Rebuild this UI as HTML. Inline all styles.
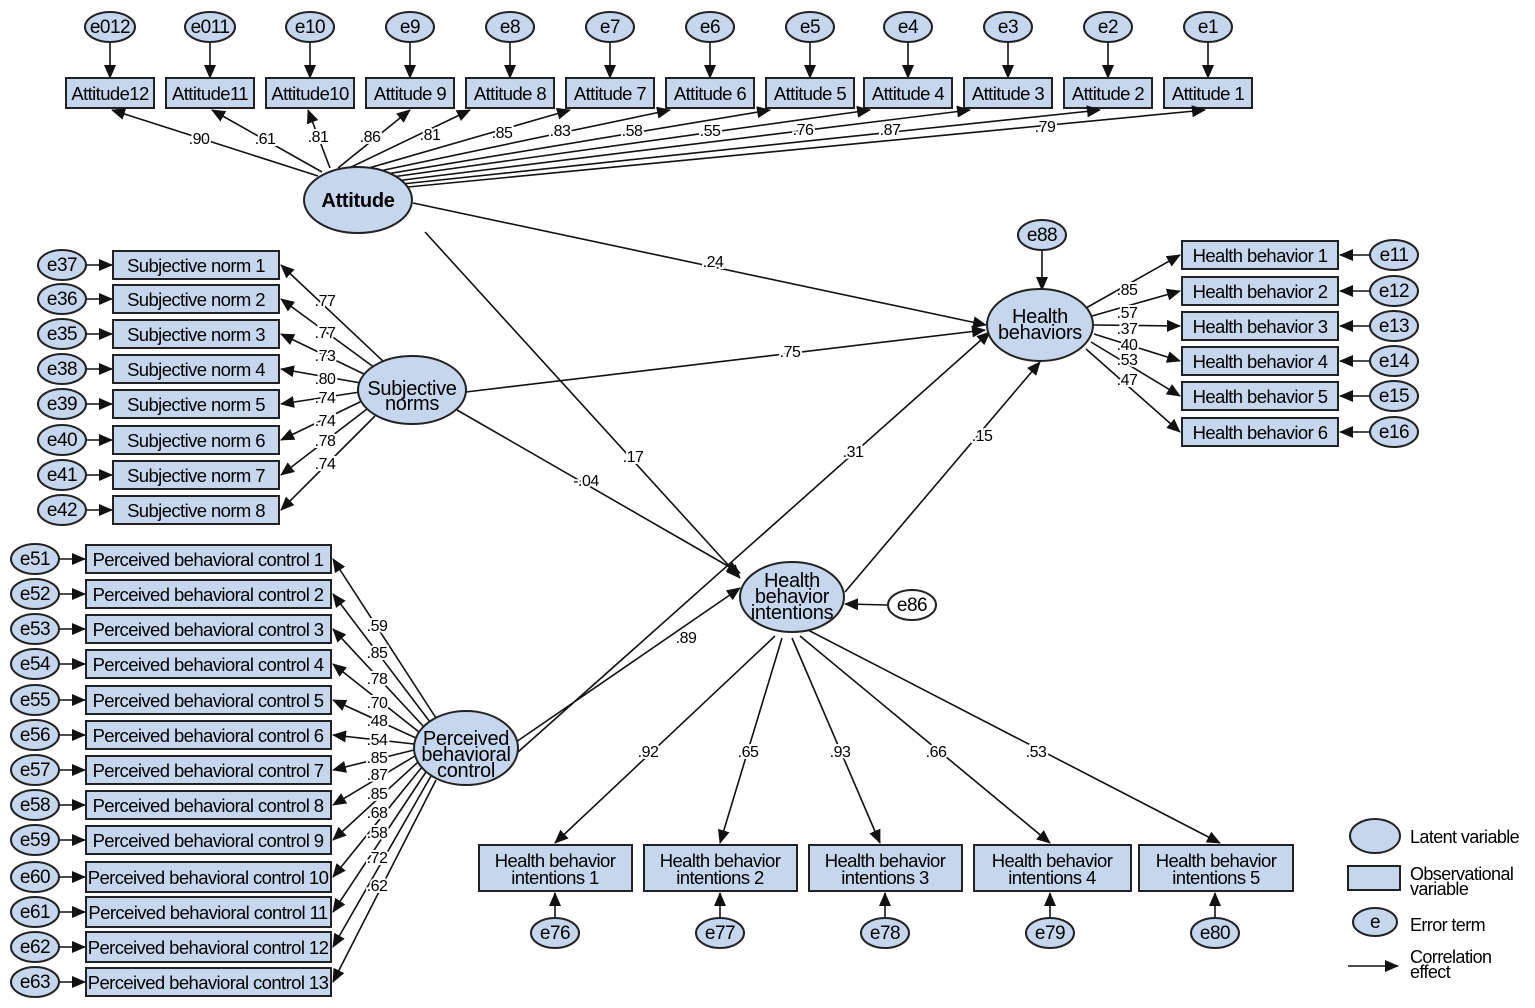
<!DOCTYPE html>
<html><head><meta charset="utf-8"><style>
html,body{margin:0;padding:0;background:#fff}
svg{display:block}
text{font-family:"Liberation Sans","DejaVu Sans",sans-serif;fill:#000}
.b{fill:#c6d6ec;stroke:#222;stroke-width:2}
.l{stroke:#111;stroke-width:1.6;fill:none;marker-end:url(#a)}
.t{font-size:18.5px;letter-spacing:-0.6px;text-anchor:middle}
.n{font-size:16px;letter-spacing:-0.5px;text-anchor:middle;paint-order:stroke;stroke:#fff;stroke-width:4px}
.e{font-size:19px;text-anchor:middle;letter-spacing:-0.5px}
.v{font-size:20px;text-anchor:middle;letter-spacing:-0.3px}
.g{font-size:18px;letter-spacing:-0.6px}
</style></head><body>
<svg width="1535" height="1008" viewBox="0 0 1535 1008" xmlns="http://www.w3.org/2000/svg">
<defs><marker id="a" markerUnits="userSpaceOnUse" markerWidth="14" markerHeight="12" refX="13" refY="6" orient="auto"><path d="M0,0 L14,6 L0,12 Z" fill="#111"/></marker></defs>

<g>
<path class="l" d="M110,43 V78"/><path class="l" d="M210,43 V78"/><path class="l" d="M310,43 V78"/><path class="l" d="M410,43 V78"/><path class="l" d="M510,43 V78"/><path class="l" d="M610,43 V78"/><path class="l" d="M710,43 V78"/><path class="l" d="M810,43 V78"/><path class="l" d="M908,43 V78"/><path class="l" d="M1008,43 V78"/><path class="l" d="M1108,43 V78"/><path class="l" d="M1208,43 V78"/>
<ellipse class="b" cx="110" cy="27" rx="25" ry="15"/><text class="e" x="110" y="33">e012</text>
<ellipse class="b" cx="210" cy="27" rx="25" ry="15"/><text class="e" x="210" y="33">e011</text>
<ellipse class="b" cx="310" cy="27" rx="24" ry="15"/><text class="e" x="310" y="33">e10</text>
<ellipse class="b" cx="410" cy="27" rx="24" ry="15"/><text class="e" x="410" y="33">e9</text>
<ellipse class="b" cx="510" cy="27" rx="24" ry="15"/><text class="e" x="510" y="33">e8</text>
<ellipse class="b" cx="610" cy="27" rx="24" ry="15"/><text class="e" x="610" y="33">e7</text>
<ellipse class="b" cx="710" cy="27" rx="24" ry="15"/><text class="e" x="710" y="33">e6</text>
<ellipse class="b" cx="810" cy="27" rx="24" ry="15"/><text class="e" x="810" y="33">e5</text>
<ellipse class="b" cx="908" cy="27" rx="24" ry="15"/><text class="e" x="908" y="33">e4</text>
<ellipse class="b" cx="1008" cy="27" rx="24" ry="15"/><text class="e" x="1008" y="33">e3</text>
<ellipse class="b" cx="1108" cy="27" rx="24" ry="15"/><text class="e" x="1108" y="33">e2</text>
<ellipse class="b" cx="1208" cy="27" rx="24" ry="15"/><text class="e" x="1208" y="33">e1</text>
</g>
<g>
<rect class="b" x="66" y="78" width="88" height="30"/><text class="t" x="110" y="100">Attitude12</text>
<rect class="b" x="166" y="78" width="88" height="30"/><text class="t" x="210" y="100">Attitude11</text>
<rect class="b" x="266" y="78" width="88" height="30"/><text class="t" x="310" y="100">Attitude10</text>
<rect class="b" x="366" y="78" width="88" height="30"/><text class="t" x="410" y="100">Attitude 9</text>
<rect class="b" x="466" y="78" width="88" height="30"/><text class="t" x="510" y="100">Attitude 8</text>
<rect class="b" x="566" y="78" width="88" height="30"/><text class="t" x="610" y="100">Attitude 7</text>
<rect class="b" x="666" y="78" width="88" height="30"/><text class="t" x="710" y="100">Attitude 6</text>
<rect class="b" x="766" y="78" width="88" height="30"/><text class="t" x="810" y="100">Attitude 5</text>
<rect class="b" x="864" y="78" width="88" height="30"/><text class="t" x="908" y="100">Attitude 4</text>
<rect class="b" x="964" y="78" width="88" height="30"/><text class="t" x="1008" y="100">Attitude 3</text>
<rect class="b" x="1064" y="78" width="88" height="30"/><text class="t" x="1108" y="100">Attitude 2</text>
<rect class="b" x="1164" y="78" width="88" height="30"/><text class="t" x="1208" y="100">Attitude 1</text>
</g>
<g>
<path class="l" d="M318,176 L112,110"/><path class="l" d="M322,172 L212,110"/><path class="l" d="M330,168 L308,110"/><path class="l" d="M338,168 L410,110"/>
<path class="l" d="M345,170 L470,110"/><path class="l" d="M355,172 L570,110"/><path class="l" d="M365,174 L670,110"/><path class="l" d="M375,176 L770,110"/><path class="l" d="M385,178 L870,110"/><path class="l" d="M395,181 L970,110"/><path class="l" d="M402,184 L1100,110"/><path class="l" d="M408,187 L1205,110"/>
<text class="n" x="199" y="144">.90</text><text class="n" x="265" y="144">.61</text><text class="n" x="318" y="142">.81</text><text class="n" x="370" y="142">.86</text><text class="n" x="430" y="140">.81</text><text class="n" x="502" y="138">.85</text><text class="n" x="560" y="136">.83</text><text class="n" x="632" y="136">.58</text><text class="n" x="710" y="136">.55</text><text class="n" x="803" y="135">.76</text><text class="n" x="890" y="135">.87</text><text class="n" x="1045" y="132">.79</text>
</g>

<path class="l" d="M413,203 L986,325"/>
<path class="l" d="M425,232 L740,578"/>
<path class="l" d="M466,392 L985,330"/>
<path class="l" d="M457,410 L740,573"/>
<path class="l" d="M518,752 L990,332"/>
<path class="l" d="M516,742 L740,588"/>
<path class="l" d="M845,592 L1040,362"/>
<path class="l" d="M1042,251 V290"/>
<path class="l" d="M888,605 L845,604"/>
<text class="n" x="713" y="267">.24</text><text class="n" x="633" y="462">.17</text><text class="n" x="790" y="357">.75</text><text class="n" x="586" y="486">-.04</text><text class="n" x="853" y="457">.31</text><text class="n" x="686" y="643">.89</text><text class="n" x="982" y="441">.15</text>

<g>
<path class="l" d="M86,265 H112"/><path class="l" d="M86,299 H112"/><path class="l" d="M86,334 H112"/><path class="l" d="M86,369 H112"/><path class="l" d="M86,404 H112"/><path class="l" d="M86,440 H112"/><path class="l" d="M86,475 H112"/><path class="l" d="M86,510 H112"/>
<path class="l" d="M385,363 L281,265"/><path class="l" d="M375,368 L281,299"/><path class="l" d="M366,375 L281,334"/><path class="l" d="M361,383 L281,369"/><path class="l" d="M360,392 L281,404"/><path class="l" d="M362,401 L281,440"/><path class="l" d="M367,409 L281,475"/><path class="l" d="M375,416 L281,510"/>
<ellipse class="b" cx="62" cy="265" rx="24" ry="15"/><text class="e" x="62" y="271">e37</text>
<ellipse class="b" cx="62" cy="299" rx="24" ry="15"/><text class="e" x="62" y="305">e36</text>
<ellipse class="b" cx="62" cy="334" rx="24" ry="15"/><text class="e" x="62" y="340">e35</text>
<ellipse class="b" cx="62" cy="369" rx="24" ry="15"/><text class="e" x="62" y="375">e38</text>
<ellipse class="b" cx="62" cy="404" rx="24" ry="15"/><text class="e" x="62" y="410">e39</text>
<ellipse class="b" cx="62" cy="440" rx="24" ry="15"/><text class="e" x="62" y="446">e40</text>
<ellipse class="b" cx="62" cy="475" rx="24" ry="15"/><text class="e" x="62" y="481">e41</text>
<ellipse class="b" cx="62" cy="510" rx="24" ry="15"/><text class="e" x="62" y="516">e42</text>
<rect class="b" x="113" y="251" width="166" height="28"/><text class="t" x="196" y="272">Subjective norm 1</text>
<rect class="b" x="113" y="285" width="166" height="28"/><text class="t" x="196" y="306">Subjective norm 2</text>
<rect class="b" x="113" y="320" width="166" height="28"/><text class="t" x="196" y="341">Subjective norm 3</text>
<rect class="b" x="113" y="355" width="166" height="28"/><text class="t" x="196" y="376">Subjective norm 4</text>
<rect class="b" x="113" y="390" width="166" height="28"/><text class="t" x="196" y="411">Subjective norm 5</text>
<rect class="b" x="113" y="426" width="166" height="28"/><text class="t" x="196" y="447">Subjective norm 6</text>
<rect class="b" x="113" y="461" width="166" height="28"/><text class="t" x="196" y="482">Subjective norm 7</text>
<rect class="b" x="113" y="496" width="166" height="28"/><text class="t" x="196" y="517">Subjective norm 8</text>
<text class="n" x="325" y="306">.77</text><text class="n" x="325" y="338">.77</text><text class="n" x="325" y="361">.73</text><text class="n" x="325" y="384">.80</text><text class="n" x="325" y="403">.74</text><text class="n" x="325" y="426">.74</text><text class="n" x="325" y="446">.78</text><text class="n" x="325" y="469">.74</text>
</g>

<g>
<path class="l" d="M59,559 H85"/><path class="l" d="M59,594 H85"/><path class="l" d="M59,629 H85"/><path class="l" d="M59,664 H85"/><path class="l" d="M59,700 H85"/><path class="l" d="M59,735 H85"/><path class="l" d="M59,770 H85"/><path class="l" d="M59,805 H85"/><path class="l" d="M59,840 H85"/><path class="l" d="M59,877 H85"/><path class="l" d="M59,912 H85"/><path class="l" d="M59,947 H85"/><path class="l" d="M59,982 H85"/>
<path class="l" d="M436,718 L333,559"/><path class="l" d="M430,722 L333,594"/><path class="l" d="M424,727 L333,629"/><path class="l" d="M419,732 L333,664"/><path class="l" d="M416,738 L333,700"/><path class="l" d="M414,744 L333,735"/><path class="l" d="M414,750 L333,770"/><path class="l" d="M415,756 L333,805"/><path class="l" d="M418,762 L333,840"/><path class="l" d="M422,767 L333,877"/><path class="l" d="M426,772 L333,912"/><path class="l" d="M431,776 L333,947"/><path class="l" d="M436,780 L333,982"/>
<ellipse class="b" cx="35" cy="559" rx="24" ry="15"/><text class="e" x="35" y="565">e51</text>
<ellipse class="b" cx="35" cy="594" rx="24" ry="15"/><text class="e" x="35" y="600">e52</text>
<ellipse class="b" cx="35" cy="629" rx="24" ry="15"/><text class="e" x="35" y="635">e53</text>
<ellipse class="b" cx="35" cy="664" rx="24" ry="15"/><text class="e" x="35" y="670">e54</text>
<ellipse class="b" cx="35" cy="700" rx="24" ry="15"/><text class="e" x="35" y="706">e55</text>
<ellipse class="b" cx="35" cy="735" rx="24" ry="15"/><text class="e" x="35" y="741">e56</text>
<ellipse class="b" cx="35" cy="770" rx="24" ry="15"/><text class="e" x="35" y="776">e57</text>
<ellipse class="b" cx="35" cy="805" rx="24" ry="15"/><text class="e" x="35" y="811">e58</text>
<ellipse class="b" cx="35" cy="840" rx="24" ry="15"/><text class="e" x="35" y="846">e59</text>
<ellipse class="b" cx="35" cy="877" rx="24" ry="15"/><text class="e" x="35" y="883">e60</text>
<ellipse class="b" cx="35" cy="912" rx="24" ry="15"/><text class="e" x="35" y="918">e61</text>
<ellipse class="b" cx="35" cy="947" rx="24" ry="15"/><text class="e" x="35" y="953">e62</text>
<ellipse class="b" cx="35" cy="982" rx="24" ry="15"/><text class="e" x="35" y="988">e63</text>
<rect class="b" x="86" y="545" width="245" height="28"/><text class="t" x="208" y="566">Perceived behavioral control 1</text>
<rect class="b" x="86" y="580" width="245" height="28"/><text class="t" x="208" y="601">Perceived behavioral control 2</text>
<rect class="b" x="86" y="615" width="245" height="28"/><text class="t" x="208" y="636">Perceived behavioral control 3</text>
<rect class="b" x="86" y="650" width="245" height="28"/><text class="t" x="208" y="671">Perceived behavioral control 4</text>
<rect class="b" x="86" y="686" width="245" height="28"/><text class="t" x="208" y="707">Perceived behavioral control 5</text>
<rect class="b" x="86" y="721" width="245" height="28"/><text class="t" x="208" y="742">Perceived behavioral control 6</text>
<rect class="b" x="86" y="756" width="245" height="28"/><text class="t" x="208" y="777">Perceived behavioral control 7</text>
<rect class="b" x="86" y="791" width="245" height="28"/><text class="t" x="208" y="812">Perceived behavioral control 8</text>
<rect class="b" x="86" y="826" width="245" height="28"/><text class="t" x="208" y="847">Perceived behavioral control 9</text>
<rect class="b" x="86" y="862" width="245" height="30"/><text class="t" x="208" y="884">Perceived behavioral control 10</text>
<rect class="b" x="86" y="897" width="245" height="30"/><text class="t" x="208" y="919">Perceived behavioral control 11</text>
<rect class="b" x="86" y="932" width="245" height="30"/><text class="t" x="208" y="954">Perceived behavioral control 12</text>
<rect class="b" x="86" y="968" width="245" height="28"/><text class="t" x="208" y="989">Perceived behavioral control 13</text>
<text class="n" x="377" y="631">.59</text><text class="n" x="377" y="658">.85</text><text class="n" x="377" y="684">.78</text><text class="n" x="377" y="708">.70</text><text class="n" x="377" y="726">.48</text><text class="n" x="377" y="745">.54</text><text class="n" x="377" y="763">.85</text><text class="n" x="377" y="780">.87</text><text class="n" x="377" y="799">.85</text><text class="n" x="377" y="818">.68</text><text class="n" x="377" y="838">.58</text><text class="n" x="377" y="863">.72</text><text class="n" x="377" y="891">.62</text>
</g>

<g>
<path class="l" d="M1086,308 L1180,255"/><path class="l" d="M1092,316 L1180,291"/><path class="l" d="M1094,325 L1180,326"/><path class="l" d="M1094,334 L1180,361"/><path class="l" d="M1091,342 L1180,396"/><path class="l" d="M1086,349 L1180,432"/>
<path class="l" d="M1370,255 H1340"/><path class="l" d="M1370,291 H1340"/><path class="l" d="M1370,326 H1340"/><path class="l" d="M1370,361 H1340"/><path class="l" d="M1370,396 H1340"/><path class="l" d="M1370,432 H1340"/>
<rect class="b" x="1182" y="241" width="156" height="28"/><text class="t" x="1260" y="262">Health behavior 1</text>
<rect class="b" x="1182" y="277" width="156" height="28"/><text class="t" x="1260" y="298">Health behavior 2</text>
<rect class="b" x="1182" y="312" width="156" height="28"/><text class="t" x="1260" y="333">Health behavior 3</text>
<rect class="b" x="1182" y="347" width="156" height="28"/><text class="t" x="1260" y="368">Health behavior 4</text>
<rect class="b" x="1182" y="382" width="156" height="28"/><text class="t" x="1260" y="403">Health behavior 5</text>
<rect class="b" x="1182" y="418" width="156" height="28"/><text class="t" x="1260" y="439">Health behavior 6</text>
<ellipse class="b" cx="1394" cy="255" rx="24" ry="15"/><text class="e" x="1394" y="261">e11</text>
<ellipse class="b" cx="1394" cy="291" rx="24" ry="15"/><text class="e" x="1394" y="297">e12</text>
<ellipse class="b" cx="1394" cy="326" rx="24" ry="15"/><text class="e" x="1394" y="332">e13</text>
<ellipse class="b" cx="1394" cy="361" rx="24" ry="15"/><text class="e" x="1394" y="367">e14</text>
<ellipse class="b" cx="1394" cy="396" rx="24" ry="15"/><text class="e" x="1394" y="402">e15</text>
<ellipse class="b" cx="1394" cy="432" rx="24" ry="15"/><text class="e" x="1394" y="438">e16</text>
<text class="n" x="1127" y="295">.85</text><text class="n" x="1127" y="318">.57</text><text class="n" x="1127" y="334">.37</text><text class="n" x="1127" y="350">.40</text><text class="n" x="1127" y="365">.53</text><text class="n" x="1127" y="385">.47</text>
</g>

<g>
<path class="l" d="M775,636 L555,843"/><path class="l" d="M782,638 L720,843"/><path class="l" d="M792,638 L880,843"/><path class="l" d="M800,636 L1050,843"/><path class="l" d="M808,630 L1220,843"/>
<path class="l" d="M555,918 V893"/><path class="l" d="M720,918 V893"/><path class="l" d="M885,918 V893"/><path class="l" d="M1050,918 V893"/><path class="l" d="M1215,918 V893"/>
<rect class="b" x="479" y="845" width="153" height="46"/><text class="t" x="555" y="867">Health behavior</text><text class="t" x="555" y="884">intentions 1</text>
<rect class="b" x="644" y="845" width="153" height="46"/><text class="t" x="720" y="867">Health behavior</text><text class="t" x="720" y="884">intentions 2</text>
<rect class="b" x="809" y="845" width="153" height="46"/><text class="t" x="885" y="867">Health behavior</text><text class="t" x="885" y="884">intentions 3</text>
<rect class="b" x="974" y="845" width="157" height="46"/><text class="t" x="1052" y="867">Health behavior</text><text class="t" x="1052" y="884">intentions 4</text>
<rect class="b" x="1139" y="845" width="154" height="46"/><text class="t" x="1216" y="867">Health behavior</text><text class="t" x="1216" y="884">intentions 5</text>
<ellipse class="b" cx="555" cy="933" rx="24" ry="15"/><text class="e" x="555" y="939">e76</text>
<ellipse class="b" cx="720" cy="933" rx="24" ry="15"/><text class="e" x="720" y="939">e77</text>
<ellipse class="b" cx="885" cy="933" rx="24" ry="15"/><text class="e" x="885" y="939">e78</text>
<ellipse class="b" cx="1050" cy="933" rx="24" ry="15"/><text class="e" x="1050" y="939">e79</text>
<ellipse class="b" cx="1215" cy="933" rx="24" ry="15"/><text class="e" x="1215" y="939">e80</text>
<text class="n" x="648" y="757">.92</text><text class="n" x="748" y="757">.65</text><text class="n" x="840" y="757">.93</text><text class="n" x="936" y="757">.66</text><text class="n" x="1036" y="757">.53</text>
</g>

<ellipse class="b" cx="358" cy="200" rx="54" ry="33"/><text class="v" x="358" y="207" font-weight="bold">Attitude</text>
<ellipse class="b" cx="412" cy="390" rx="54" ry="34"/><text class="v" x="412" y="395">Subjective</text><text class="v" x="412" y="410">norms</text>
<ellipse class="b" cx="466" cy="748" rx="52" ry="37"/><text class="v" x="466" y="745">Perceived</text><text class="v" x="466" y="761">behavioral</text><text class="v" x="466" y="777">control</text>
<ellipse class="b" cx="1040" cy="325" rx="53" ry="36"/><text class="v" x="1040" y="323">Health</text><text class="v" x="1040" y="339">behaviors</text>
<ellipse class="b" cx="792" cy="597" rx="52" ry="35"/><text class="v" x="792" y="587">Health</text><text class="v" x="792" y="603">behavior</text><text class="v" x="792" y="619">intentions</text>
<ellipse class="b" cx="1042" cy="235" rx="24" ry="15"/><text class="e" x="1042" y="241">e88</text>
<ellipse cx="912" cy="605" rx="24" ry="15" fill="#fff" stroke="#222" stroke-width="2"/><text class="e" x="912" y="611">e86</text>

<ellipse class="b" cx="1375" cy="836" rx="25" ry="17"/><text class="g" x="1410" y="843">Latent variable</text>
<rect class="b" x="1348" y="866" width="52" height="24"/><text class="g" x="1410" y="880">Observational</text><text class="g" x="1410" y="895">variable</text>
<ellipse class="b" cx="1375" cy="922" rx="22" ry="14"/><text class="e" x="1375" y="928">e</text><text class="g" x="1410" y="931">Error term</text>
<path class="l" d="M1348,966 H1398"/><text class="g" x="1410" y="963">Correlation</text><text class="g" x="1410" y="978">effect</text>
</svg>
</body></html>
